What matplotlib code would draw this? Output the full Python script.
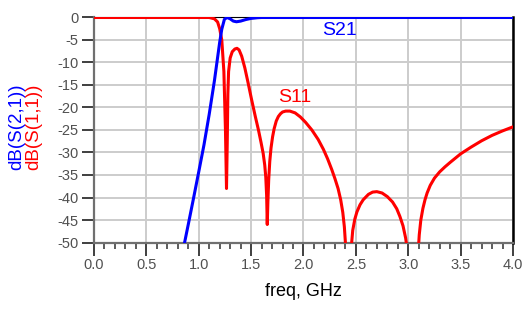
import matplotlib
matplotlib.use("Agg")
import matplotlib.pyplot as plt
from matplotlib.ticker import MultipleLocator

RED, BLUE = "#ff0000", "#0000ff"
TICKTXT, GRID = "#505050", "#cccccc"
plt.rcParams["font.family"] = ["Liberation Sans", "DejaVu Sans"]

# S21 (dB) vs freq (GHz)
s21_f = [0.865, 0.90, 0.95, 1.00, 1.05, 1.10, 1.15, 1.20, 1.22, 1.245, 1.27,
         1.30, 1.33, 1.36, 1.40, 1.45, 1.50, 1.56, 1.60, 4.00]
s21_db = [-50.0, -46.0, -40.2, -34.3, -28.3, -21.5, -14.0, -5.5, -2.6, -0.4, 0.0,
          -0.3, -0.8, -0.95, -0.8, -0.45, -0.2, -0.05, 0.0, 0.0]

# S11 (dB) vs freq (GHz)
s11_f = [0.00, 1.10, 1.15, 1.18, 1.20, 1.22, 1.24, 1.255, 1.265, 1.272, 1.278,
         1.285, 1.30, 1.32, 1.345, 1.365, 1.385, 1.41, 1.44, 1.47, 1.505, 1.54,
         1.57, 1.595, 1.615, 1.63, 1.64, 1.648, 1.654, 1.66, 1.668, 1.678, 1.69,
         1.705, 1.72, 1.74, 1.76, 1.78, 1.80, 1.83, 1.87, 1.92, 1.97, 2.02, 2.08,
         2.14, 2.19, 2.23, 2.27, 2.30, 2.33, 2.355, 2.375, 2.39, 2.40, 2.43,
         2.455, 2.46, 2.47, 2.49, 2.51, 2.54, 2.57, 2.62, 2.66, 2.70, 2.75, 2.80,
         2.85, 2.89, 2.92, 2.95, 2.975, 2.99, 3.04, 3.095, 3.105, 3.12, 3.14,
         3.16, 3.18, 3.21, 3.25, 3.30, 3.35, 3.40, 3.50, 3.60, 3.70, 3.80, 3.90,
         4.00]
s11_db = [0.0, 0.0, -0.3, -1.0, -2.5, -5.0, -12.0, -25.0, -38.0, -28.0, -17.0,
          -12.0, -9.0, -7.6, -7.0, -6.85, -7.2, -8.6, -11.2, -14.4, -18.3, -22.0,
          -25.0, -27.8, -30.2, -32.8, -35.5, -39.5, -46.0, -41.0, -36.0, -32.0, -29.0,
          -26.5, -24.7, -23.0, -22.0, -21.4, -21.0, -20.8, -20.8, -21.2, -22.1, -23.3, -25.0,
          -27.1, -29.3, -31.4, -33.8, -35.8, -38.0, -40.5, -43.3, -46.5, -50.0, -60.0,
          -53.0, -50.0, -47.3, -44.8, -43.2, -41.6, -40.5, -39.3, -38.8, -38.7, -39.0, -39.8,
          -41.0, -42.5, -44.2, -46.3, -49.0, -51.5, -60.0, -52.0, -48.3, -45.0, -42.4,
          -40.5, -39.0, -37.3, -35.7, -34.3, -33.2, -32.2, -30.3, -28.8, -27.4, -26.2, -25.2,
          -24.3]

x_major = [0.0, 0.5, 1.0, 1.5, 2.0, 2.5, 3.0, 3.5, 4.0]
y_major = [0, -5, -10, -15, -20, -25, -30, -35, -40, -45, -50]

fig = plt.figure(figsize=(5.23, 3.09), dpi=100)
ax = fig.add_axes([0.1797, 0.2152, 0.8012, 0.7282])

ax.plot(s11_f, s11_db, color=RED, lw=2.2, zorder=3, solid_joinstyle="round")
ax.plot(s21_f, s21_db, color=BLUE, lw=2.2, zorder=4, solid_joinstyle="round")

ax.set_xlim(0, 4)
ax.set_ylim(-50, 0)
ax.set_xticks(x_major)
ax.set_xticklabels([f"{v:.1f}" for v in x_major])
ax.xaxis.set_minor_locator(MultipleLocator(0.1))
ax.set_yticks(y_major)
ax.set_yticklabels([str(v) for v in y_major])
ax.grid(True, which="major", color=GRID, lw=1.4, zorder=0)
ax.set_axisbelow(True)

ax.tick_params(axis="both", which="major", direction="out", length=9, width=1.3,
               color="#303030", labelcolor=TICKTXT, labelsize=10.5, pad=2)
ax.tick_params(axis="x", which="minor", direction="out", length=4.5, width=1.1,
               color="#303030")
ax.tick_params(axis="y", which="minor", left=False)

for side in ("left", "bottom"):
    ax.spines[side].set_color("#707070")
    ax.spines[side].set_linewidth(1.6)
ax.spines["right"].set_color("black")
ax.spines["right"].set_linewidth(1.8)
ax.spines["top"].set_color("black")
ax.spines["top"].set_linewidth(0.8)

ax.set_xlabel("freq, GHz", fontsize=13, color="black", labelpad=8)

# trace labels
ax.text(2.34, -3.0, "S21", color=BLUE, fontsize=14, ha="center", va="center")
ax.text(1.92, -17.8, "S11", color=RED, fontsize=14, ha="center", va="center")

fig.text(16.5 / 523, 1 - 127 / 309, "dB(S(2,1))", color=BLUE, fontsize=13.5,
         rotation=90, ha="center", va="center")
fig.text(33.5 / 523, 1 - 127 / 309, "dB(S(1,1))", color=RED, fontsize=13.5,
         rotation=90, ha="center", va="center")

fig.savefig("out.png", dpi=100)
